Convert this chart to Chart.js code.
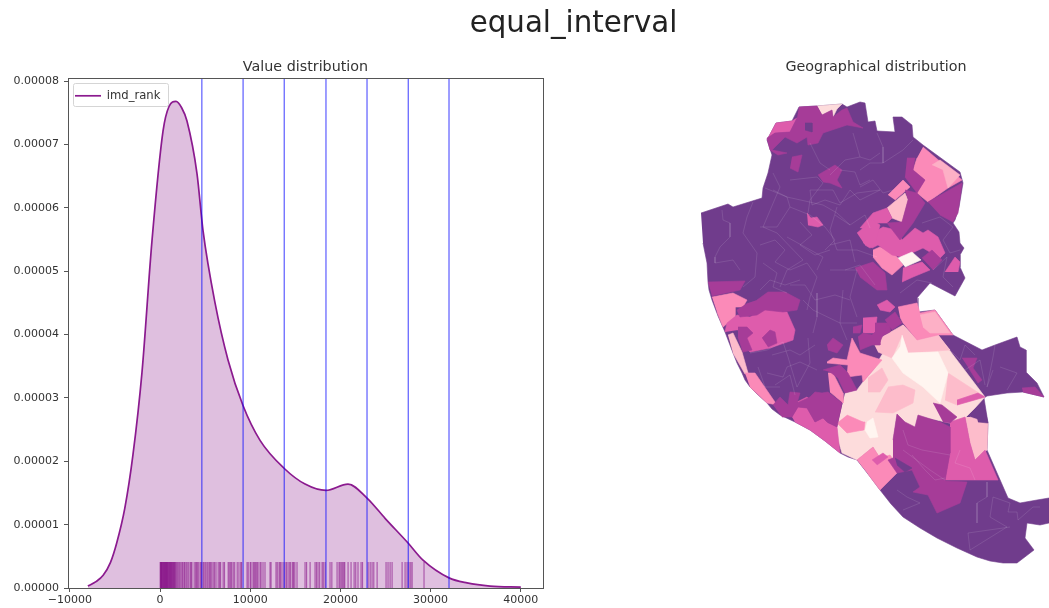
<!DOCTYPE html>
<html>
<head>
<meta charset="utf-8">
<title>equal_interval</title>
<script src="https://cdn.jsdelivr.net/npm/chart.js@4"></script>
<style>
    html, body { margin: 0; padding: 0; background: #fff; width: 1049px; height: 608px; overflow: hidden; }
    #main_title { position: absolute; left: 0; top: 5px; width: 1147px; text-align: center; font: 29.3px "DejaVu Sans"; color: #222; filter: blur(0.3px); }
    #value_chart { position: absolute; left: 0; top: 0; filter: blur(0.3px); }
    #geo_chart { position: absolute; left: 700px; top: 0; filter: blur(0.5px); }
</style>
</head>
<body>
<div id="main_title">equal_interval</div>
<canvas id="value_chart" width="560" height="608"></canvas>
<canvas id="geo_chart" width="352" height="608"></canvas>

<script>
// value distribution
const kde_rank = [-8000, -7100, -6300, -5500, -4800, -3900, -3000, -2000, -890, 333, 1000, 1770, 2400, 2990, 4100, 4770, 6100, 7540, 9200, 11090, 13750, 16080, 18400, 20840, 22950, 24950, 27500, 29160, 32040, 34040, 36590, 40000];
const kde_density = [0.03e-5, 0.1e-5, 0.2e-5, 0.4e-5, 0.71e-5, 1.26e-5, 2.1e-5, 3.4e-5, 5.48e-5, 7.21e-5, 7.6e-5, 7.68e-5, 7.58e-5, 7.37e-5, 6.54e-5, 5.64e-5, 4.5e-5, 3.6e-5, 2.88e-5, 2.33e-5, 1.89e-5, 1.64e-5, 1.54e-5, 1.64e-5, 1.42e-5, 1.1e-5, 0.71e-5, 0.44e-5, 0.16e-5, 0.08e-5, 0.03e-5, 0.015e-5];

const class_breaks = [4640, 9210, 13770, 18400, 22950, 27520, 32040];

const rug_ranks = [20, 70, 110, 160, 200, 250, 310, 350, 400, 460, 510, 560, 600, 660, 710, 750, 810, 860, 900, 970, 1020, 1080, 1130, 1190, 1240, 1300, 1360, 1420, 1490, 1550, 1610, 1680, 1750,
    1850, 1960, 2080, 2190, 2320, 2450, 2540, 2680, 2760, 2900, 3020, 3180, 3350, 3450, 3540, 3790, 3950, 4060, 4180, 4310, 4480, 4610,
    4790, 4900, 5060, 5210, 5330, 5480, 5600, 5740, 5900, 6050, 6210, 6450, 6600, 6720, 7000, 7150, 7560, 7680, 7830, 7950, 8120, 8280, 8560, 8750, 8950, 9050,
    9650, 9780, 10000, 10090, 10310, 10420, 10530, 10640, 10760, 10870, 11090, 11200, 11420, 11640, 12200, 12310, 12860, 13000, 13200, 13310, 13420, 13640, 13860,
    14030, 14200, 14380, 14500, 14700, 14810, 14950, 15190, 16080, 16250, 16640, 17190, 17350, 17520, 17700, 17970, 18100, 18300, 18850, 19050, 19630, 19850,
    19960, 20100, 20250, 20380, 20480, 20850, 21180, 21520, 21700, 21950, 22290, 22450, 23070, 23300, 23510, 23700, 24070, 25060, 25280, 25510, 25730, 26840, 27170, 27390, 27610, 27800, 27950, 29270];
const rug_top = 0.41e-5;

const x_ticks = [-10000, 0, 10000, 20000, 30000, 40000];
const y_ticks = [0, 0.00001, 0.00002, 0.00003, 0.00004, 0.00005, 0.00006, 0.00007, 0.00008];

// map shapes, in map grid units, one list per class
const city_outline = [[701,213],[728,204],[733,207],[762,198],[763,188],[768,173],[772,155],[767,140],[776,123],[792,121],[799,107],[817,106],[842,104],[847,107],[860,102],[865,103],[868,122],[875,121],[877,131],[895,132],[893,117],[902,117],[912,125],[913,137],[923,145],[960,172],[963,183],[959,207],[955,220],[953,223],[959,232],[960,243],[964,248],[960,255],[960,267],[965,278],[955,296],[930,283],[917,298],[918,312],[935,310],[953,335],[982,350],[995,345],[1017,337],[1020,347],[1026,350],[1026,372],[1037,383],[1044,397],[1023,392],[1007,393],[987,396],[984,398],[988,423],[987,450],[1008,498],[1020,503],[1037,500],[1049,498],[1049,523],[1040,525],[1027,523],[1025,538],[1034,550],[1017,563],[1003,563],[990,561],[977,557],[957,548],[937,538],[920,528],[903,517],[891,504],[880,490],[868,474],[857,460],[848,457],[840,453],[825,441],[810,430],[795,422],[780,415],[772,409],[767,403],[757,394],[750,387],[745,380],[742,373],[737,363],[733,353],[725,332],[718,316],[712,300],[709,290],[708,282],[707,263],[703,243]];

const class_6_areas = [
    [[845,393],[857,390],[863,382],[875,368],[880,358],[888,345],[903,325],[917,340],[938,335],[985,397],[975,408],[965,418],[950,423],[918,416],[915,428],[903,423],[897,414],[893,440],[893,458],[880,458],[873,447],[857,460],[842,453],[838,440],[837,427]],
    [[817,106],[842,104],[837,109],[833,117],[832,110],[822,115]],
];
const class_5_areas = [
    [[873,342],[903,325],[917,340],[938,335],[950,350],[908,353],[902,335],[892,358],[878,352]],
    [[948,373],[985,397],[957,405],[945,400]],
    [[888,387],[903,385],[915,390],[913,403],[893,413],[875,412]],
    [[970,417],[988,423],[987,450],[975,460],[970,443],[965,417]],
    [[728,335],[733,333],[742,352],[748,373],[745,374],[733,353]],
    [[887,208],[905,193],[908,200],[902,222],[892,218]],
    [[868,378],[882,368],[888,380],[880,392],[868,392]],
];
const class_4_areas = [
    [[923,147],[962,180],[948,188],[928,202],[917,193],[925,180],[913,170],[917,158]],
    [[888,195],[903,180],[910,187],[895,200]],
    [[873,250],[880,247],[893,253],[900,260],[903,265],[892,275],[882,268],[873,257]],
    [[712,297],[733,293],[747,300],[743,307],[735,307],[735,317],[723,327],[717,312]],
    [[745,373],[755,373],[777,405],[767,403],[750,387]],
    [[828,373],[833,373],[843,393],[843,403],[830,392]],
    [[827,362],[833,358],[847,360],[852,338],[860,353],[882,360],[875,368],[863,382],[862,375],[847,377],[848,365],[827,363]],
    [[898,307],[917,303],[920,313],[935,310],[953,335],[938,335],[917,340],[903,323],[900,317]],
    [[847,415],[863,422],[863,430],[847,433],[837,423]],
    [[857,460],[873,447],[880,458],[890,455],[895,462],[897,473],[880,490],[868,474]],
    [[860,422],[865,422],[864,430],[860,430]],
];
const class_4b_areas = [
    [[920,315],[935,312],[950,333],[930,333],[923,327]],
    [[932,165],[940,160],[960,175],[948,188],[943,170]],
];
const class_3_areas = [
    [[767,140],[776,123],[792,121],[797,118],[790,132],[775,133]],
    [[807,213],[811,218],[817,217],[823,225],[818,227],[808,225]],
    [[725,332],[727,323],[737,315],[750,317],[765,308],[787,312],[795,330],[793,340],[770,348],[750,352],[743,345],[738,330]],
    [[792,417],[798,407],[807,408],[815,422],[823,418],[828,423],[837,427],[840,453],[825,441],[810,430],[795,422]],
    [[797,402],[807,397],[815,405],[808,408]],
    [[860,228],[873,213],[887,208],[892,218],[887,223],[873,223],[868,230]],
    [[863,243],[873,233],[883,227],[897,230],[902,240],[915,228],[923,233],[928,230],[938,237],[945,253],[940,258],[923,248],[912,253],[902,257],[892,255],[878,245],[872,248]],
    [[857,233],[873,220],[880,225],[875,245],[870,248],[865,245]],
    [[903,268],[922,262],[930,270],[913,277],[902,282]],
    [[945,272],[955,257],[960,262],[958,272]],
    [[877,305],[887,300],[895,307],[890,312],[880,310]],
    [[863,318],[877,317],[875,333],[863,333]],
    [[950,422],[965,417],[970,443],[975,460],[985,450],[998,480],[945,480],[950,453]],
    [[872,460],[883,453],[888,457],[877,465]],
    [[957,400],[978,393],[985,397],[957,405]],
];
const class_2_areas = [
    [[799,107],[817,106],[822,115],[832,110],[833,117],[842,110],[847,108],[853,122],[863,128],[847,125],[823,133],[818,143],[808,145],[807,137],[797,143],[785,137],[772,150],[787,153],[778,155],[770,150],[767,138],[775,133],[790,132],[797,118]],
    [[792,157],[802,155],[798,172],[790,168]],
    [[818,175],[835,165],[842,170],[837,180],[842,188],[830,183],[823,182]],
    [[708,282],[745,281],[740,290],[712,296]],
    [[757,300],[768,292],[785,292],[800,300],[797,310],[783,312],[765,310],[757,315],[740,317],[737,310],[748,303]],
    [[738,327],[747,327],[753,333],[747,338],[752,350],[743,352],[738,337]],
    [[762,338],[770,330],[775,332],[777,343],[768,347]],
    [[773,405],[780,397],[788,405],[790,392],[800,393],[797,403],[810,397],[815,392],[822,393],[828,392],[842,403],[837,427],[827,422],[823,418],[815,422],[807,408],[798,407],[792,417],[782,417]],
    [[823,370],[840,365],[848,373],[857,390],[845,393],[838,378],[830,372]],
    [[827,345],[833,338],[843,345],[837,353],[828,350]],
    [[858,337],[863,333],[872,335],[882,325],[890,323],[890,332],[880,337],[880,345],[872,345],[860,350]],
    [[853,327],[862,325],[860,333],[853,333]],
    [[875,323],[888,323],[880,342],[875,337]],
    [[962,358],[977,358],[973,368],[982,380],[978,383],[968,367]],
    [[1022,388],[1035,387],[1044,397],[1023,392]],
    [[893,440],[897,414],[905,422],[915,427],[918,415],[940,422],[950,427],[950,453],[945,481],[967,482],[960,503],[937,513],[928,495],[913,492],[920,487],[912,470],[897,473],[888,460],[893,458]],
    [[933,403],[942,405],[957,417],[950,423],[943,422]],
    [[907,158],[915,158],[913,170],[925,180],[917,193],[905,177]],
    [[928,202],[962,183],[958,213],[953,222],[940,215]],
    [[905,190],[917,193],[925,203],[913,223],[900,240],[887,223],[902,222],[908,200]],
    [[922,258],[932,250],[942,260],[933,270]],
    [[855,268],[873,262],[885,273],[887,290],[877,290],[860,277]],
    [[885,320],[895,312],[902,323],[892,330]],
];
const class_1_patches = [
    [[805,123],[812,123],[812,132],[805,130]],
    [[895,458],[912,468],[905,472],[897,465]],
    [[975,410],[983,402],[988,423],[978,422]],
];
const class_7_areas = [
    [[902,335],[908,353],[938,352],[948,373],[940,403],[923,387],[903,373],[892,358],[900,347]],
    [[867,422],[873,418],[878,437],[870,438],[865,430]],
    [[898,258],[912,252],[921,260],[905,267]],
];
const ward_lines = [
    [[722,210],[723,220],[730,223],[730,237],[720,247],[715,257],[715,263],[733,260],[740,270]],
    [[753,202],[747,217],[743,233],[757,253],[755,277],[743,287]],
    [[765,188],[787,197],[823,205],[837,213],[850,225]],
    [[773,173],[780,187],[763,227],[777,233],[803,260],[787,270],[780,287]],
    [[790,180],[817,177],[823,183],[810,200],[808,213]],
    [[810,143],[820,163],[830,170]],
    [[853,133],[860,157],[870,160],[880,153]],
    [[837,207],[830,230],[837,250],[857,250],[877,257]],
    [[790,270],[807,263],[817,277],[810,297],[807,310]],
    [[830,270],[857,270],[850,297],[857,317]],
    [[880,190],[857,193],[840,203],[833,190],[810,190]],
    [[787,237],[823,257],[817,270]],
    [[763,263],[777,273],[773,287],[787,293]],
    [[877,133],[883,147],[883,163],[870,163],[860,170]],
    [[883,163],[903,150],[913,140]],
    [[860,187],[873,180],[883,193],[893,190]],
    [[922,223],[940,217],[953,227],[943,240],[950,253],[960,250]],
    [[933,270],[947,257],[943,277],[953,287]],
    [[900,293],[917,280],[932,283]],
    [[750,353],[767,350],[783,342],[788,357],[797,387]],
    [[808,338],[810,363],[797,387]],
    [[767,373],[783,377],[787,367],[800,362],[817,370]],
    [[758,367],[765,387],[780,387]],
    [[803,300],[813,310],[840,323],[857,323]],
    [[817,293],[817,317],[813,333]],
    [[843,290],[840,323],[847,340]],
    [[993,497],[1010,503],[1008,512],[1017,512],[1018,520],[1033,507],[1040,507]],
    [[993,497],[990,517],[1007,527],[970,550],[968,533],[1010,527]],
    [[987,482],[987,497],[977,503],[977,523]],
    [[993,370],[987,387],[993,357],[995,345]],
    [[1000,367],[1017,373],[1007,390]],
    [[897,490],[907,497],[920,503],[903,510]],
    [[903,450],[930,470],[945,480]],
    [[773,190],[787,197],[790,207],[777,227],[760,227]],
    [[790,207],[810,215],[825,227],[835,240],[825,250]],
    [[760,245],[775,240],[785,250],[775,262],[790,270]],
    [[800,222],[812,235],[800,245],[815,255],[830,250]],
    [[810,190],[812,205],[825,200],[840,205],[850,190],[860,200],[880,190]],
    [[840,170],[855,172],[860,185],[870,180]],
    [[830,175],[845,160],[860,157]],
    [[835,215],[850,225],[865,215],[870,228]],
    [[830,245],[850,240],[855,262]],
    [[790,285],[805,285],[815,300],[835,295],[850,300]],
    [[760,290],[770,280],[785,285],[800,280]],
    [[845,270],[860,265],[875,285]],
    [[772,355],[790,350],[800,355],[815,345]],
    [[775,385],[790,375],[795,395]],
    [[912,455],[925,470],[935,480],[945,478]],
    [[903,430],[908,445],[922,450],[950,455]],
    [[960,450],[955,463],[970,468],[975,480]],
    [[965,370],[980,360],[985,385]],
    [[945,345],[960,360],[965,345],[975,355]],
];

const text_color = "#333";
const axis_color = "#555";

// frame on all four sides, the box behind the legend, title over the axes only
const frame_plugin = {
    id: "frame_plugin",
    beforeDraw(chart) {
        let a = chart.chartArea;
        chart.titleBlock.left = a.left;
        chart.titleBlock.right = a.right;
        chart.legend.top = 83;
        let ctx = chart.ctx;
        ctx.save();
        ctx.strokeStyle = "#d5d5d5";
        ctx.lineWidth = 1;
        ctx.beginPath();
        ctx.roundRect(73.5, 83.5, 95, 23, 2);
        ctx.stroke();
        ctx.restore();
    },
    afterDraw(chart) {
        let a = chart.chartArea;
        let ctx = chart.ctx;
        ctx.save();
        ctx.strokeStyle = axis_color;
        ctx.lineWidth = 1;
        ctx.strokeRect(a.left + 0.5, a.top + 0.5, a.right - a.left, a.bottom - a.top);
        ctx.restore();
    }
};

let value_sets = [];
value_sets.push({
    label: "imd_rank",
    data: kde_rank.map((r, i) => ({ x: r, y: kde_density[i] })),
    borderColor: "#8b1a8f",
    borderWidth: 1.7,
    backgroundColor: "rgba(128, 0, 128, 0.25)",
    fill: "origin",
    cubicInterpolationMode: "monotone",
    pointRadius: 0,
    order: 1000
});
rug_ranks.forEach((r) => {
    value_sets.push({
        data: [{ x: r, y: 0 }, { x: r, y: rug_top }],
        borderColor: "rgba(128, 0, 128, 0.55)",
        borderWidth: 1.2,
        pointRadius: 0,
        order: 500
    });
});
class_breaks.forEach((b) => {
    value_sets.push({
        data: [{ x: b, y: 0 }, { x: b, y: 0.0000805 }],
        borderColor: "rgba(0, 0, 255, 0.7)",
        borderWidth: 1.1,
        pointRadius: 0,
        order: 100
    });
});

new Chart(document.getElementById("value_chart").getContext("2d"), {
    type: "line",
    data: { datasets: value_sets },
    plugins: [frame_plugin],
    options: {
        responsive: false,
        animation: false,
        events: [],
        layout: { padding: { right: 17 } },
        plugins: {
            title: {
                display: true,
                text: "Value distribution",
                color: text_color,
                font: { family: "DejaVu Sans", size: 14.3, weight: "normal" },
                padding: { top: 58.5, bottom: 2.34 }
            },
            legend: {
                display: true,
                position: "chartArea",
                align: "start",
                labels: {
                    filter: (item) => item.text === "imd_rank",
                    usePointStyle: true,
                    pointStyle: "line",
                    pointStyleWidth: 26,
                    color: text_color,
                    padding: 7,
                    font: { family: "DejaVu Sans", size: 11.6 }
                }
            },
            tooltip: { enabled: false }
        },
        scales: {
            x: {
                type: "linear",
                min: -10200,
                max: 42460,
                grid: { drawOnChartArea: false, tickLength: 4, tickColor: axis_color },
                border: { color: axis_color },
                afterBuildTicks: (scale) => { scale.ticks = x_ticks.map((v) => ({ value: v })); },
                afterFit: (scale) => { scale.height = 20; },
                ticks: {
                    color: text_color,
                    maxRotation: 0,
                    autoSkip: false,
                    padding: 2,
                    font: { family: "DejaVu Sans", size: 11 },
                    callback: (v) => String(v).replace("-", "\u2212")
                }
            },
            y: {
                type: "linear",
                min: 0,
                max: 0.0000805,
                grid: { drawOnChartArea: false, tickLength: 4, tickColor: axis_color },
                border: { color: axis_color },
                afterBuildTicks: (scale) => { scale.ticks = y_ticks.map((v) => ({ value: v })); },
                afterFit: (scale) => { scale.width = 68; },
                ticks: {
                    color: text_color,
                    autoSkip: false,
                    padding: 5,
                    font: { family: "DejaVu Sans", size: 11 },
                    callback: (v) => v.toFixed(5)
                }
            }
        }
    }
});

// map, painted from the darkest base up
let map_sets = [];
function add_areas(areas, color) {
    areas.forEach((a) => {
        map_sets.push({
            data: a.map((p) => ({ x: p[0], y: p[1] })),
            borderColor: color,
            backgroundColor: color,
            borderWidth: 0.6,
            fill: "shape",
            pointRadius: 0,
            order: -map_sets.length
        });
    });
}
add_areas([city_outline], "#703c8c");
add_areas(class_6_areas, "#fddcdc");
add_areas(class_5_areas, "#fdbccb");
add_areas(class_4_areas, "#fb8ab8");
add_areas(class_4b_areas, "#fdb0c6");
add_areas(class_3_areas, "#de5cac");
add_areas(class_2_areas, "#a63c98");
add_areas(class_1_patches, "#703c8c");
add_areas(class_7_areas, "#fff5f0");
ward_lines.forEach((w) => {
    map_sets.push({
        data: w.map((p) => ({ x: p[0], y: p[1] })),
        borderColor: "rgba(255, 255, 255, 0.16)",
        borderWidth: 0.7,
        fill: false,
        pointRadius: 0,
        order: -map_sets.length
    });
});

new Chart(document.getElementById("geo_chart").getContext("2d"), {
    type: "line",
    data: { datasets: map_sets },
    options: {
        responsive: false,
        animation: false,
        events: [],
        plugins: {
            title: {
                display: true,
                text: "Geographical distribution",
                color: text_color,
                font: { family: "DejaVu Sans", size: 14.3, weight: "normal" },
                padding: { top: 58.5, bottom: 2.34 }
            },
            legend: { display: false },
            tooltip: { enabled: false }
        },
        scales: {
            x: { type: "linear", display: false, min: 700, max: 1052 },
            y: { type: "linear", display: false, min: 78, max: 608, reverse: true }
        }
    }
});
</script>
</body>
</html>
